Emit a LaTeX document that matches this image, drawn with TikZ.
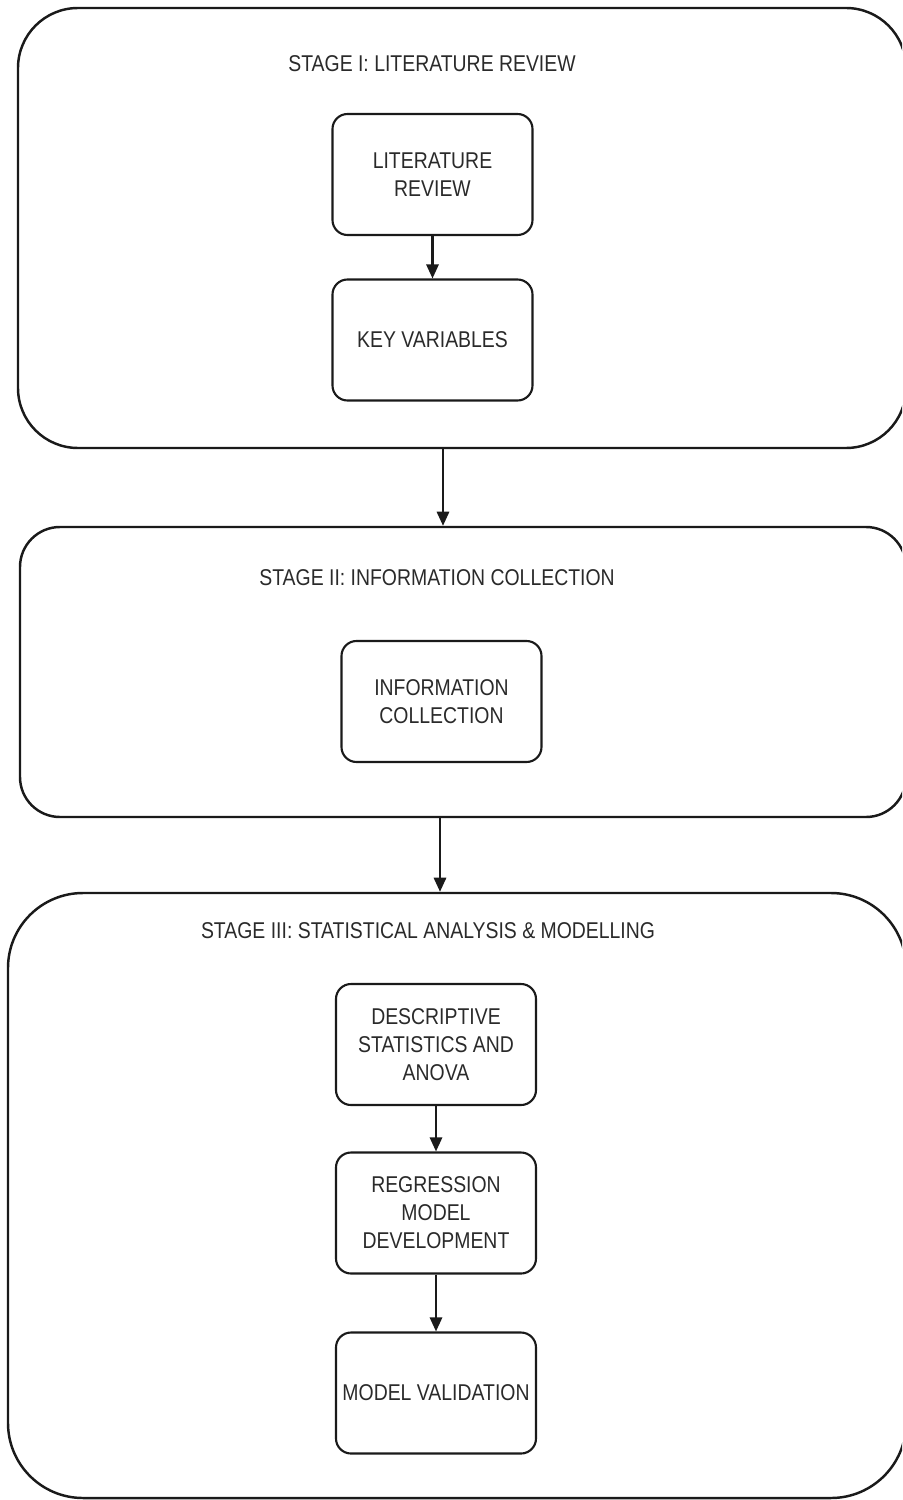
\documentclass[tikz,border=0pt]{standalone}
\usepackage{fontspec}
\setmainfont{Liberation Sans}[FakeStretch=0.85]
\usetikzlibrary{arrows.meta, positioning}
\definecolor{boxline}{HTML}{1A1A1A}
\definecolor{boxtext}{HTML}{2A2A2A}

\begin{document}
\begin{tikzpicture}[
  stage/.style={rectangle, draw=boxline, line width=1.4pt, rounded corners=#1, inner sep=0pt},
  task/.style={rectangle, draw=boxline, line width=1.2pt, rounded corners=0.3cm, minimum width=4cm, minimum height=2.42cm, inner sep=1pt, align=center, text=boxtext, font=\fontsize{13}{15.9}\selectfont},
  title/.style={text=boxtext, font=\fontsize{13}{15.9}\selectfont},
  arr/.style={-{Triangle[width=7pt,length=8pt]}, line width=1.2pt, boxline},
]
  \useasboundingbox (0,0) rectangle (18.04,-30);
  \clip (0,0) rectangle (18.04,-30);

  % Stage I
  \node[stage=1.2cm, minimum width=17.76cm, minimum height=8.8cm] (stageI) at (9.24,-4.56) {};
  \node[title] (titleI) at (8.64,-1.28) {STAGE I: LITERATURE REVIEW};
  \node[task] (lit) at (8.65,-3.49) {LITERATURE\\REVIEW};
  \node[task] (keyvar) at (8.65,-6.8) {KEY VARIABLES};

  % Stage II
  \node[stage=0.8cm, minimum width=17.72cm, minimum height=5.8cm] (stageII) at (9.26,-13.44) {};
  \node[title] (titleII) at (8.74,-11.56) {STAGE II: INFORMATION COLLECTION};
  \node[task] (info) at (8.83,-14.03) {INFORMATION\\COLLECTION};

  % Stage III
  \node[stage=1.5cm, minimum width=17.96cm, minimum height=12.1cm] (stageIII) at (9.14,-23.91) {};
  \node[title] (titleIII) at (8.56,-18.62) {STAGE III: STATISTICAL ANALYSIS \& MODELLING};
  \node[task] (desc) at (8.72,-20.89) {DESCRIPTIVE\\STATISTICS AND\\ANOVA};
  \node[task] (regr) at (8.72,-24.26) {REGRESSION\\MODEL\\DEVELOPMENT};
  \node[task] (valid) at (8.72,-27.86) {MODEL VALIDATION};

  % Arrows
  \coordinate (linkI) at (8.86,0);
  \coordinate (linkII) at (8.8,0);
  \draw[arr] (lit) -- (keyvar);
  \draw[arr] (stageI.south -| linkI) -- (stageII.north -| linkI);
  \draw[arr] (stageII.south -| linkII) -- (stageIII.north -| linkII);
  \draw[arr] (desc) -- (regr);
  \draw[arr] (regr) -- (valid);
\end{tikzpicture}
\end{document}
